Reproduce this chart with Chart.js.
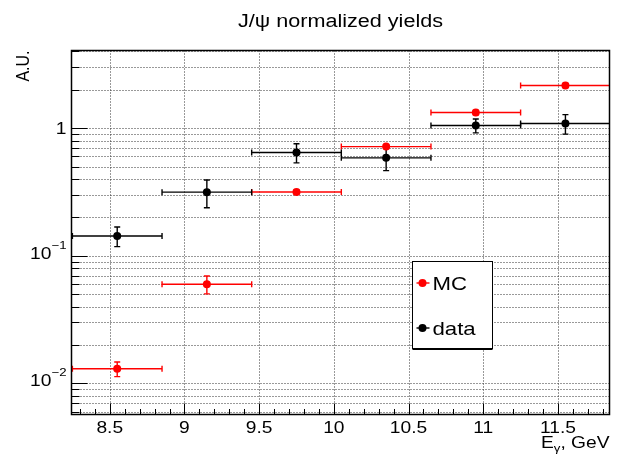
<!DOCTYPE html>
<html><head><meta charset="utf-8">
<script src="https://cdn.jsdelivr.net/npm/chart.js@4.4.0/dist/chart.umd.min.js"></script>
<style>html,body{margin:0;padding:0;background:#fff;}canvas{display:block;}</style>
</head><body>
<canvas id="c" width="620" height="460"></canvas>
<script>
// ---- data ----
const binCenters   = [8.55, 9.15, 9.75, 10.35, 10.95, 11.55];
const binHalfWidth = [0.3, 0.3, 0.3, 0.3, 0.3, 0.3];
const mcValues   = [0.0130, 0.0598, 0.316, 0.717, 1.325, 2.16];
const mcErrors   = [0.0017, 0.0095, 0.012, 0.025, 0.05, 0.08];
const dataValues = [0.143, 0.315, 0.644, 0.585, 1.048, 1.087];
const dataErrors = [0.025, 0.077, 0.11, 0.12, 0.13, 0.19];
const xTickValues = [8.5, 9, 9.5, 10, 10.5, 11, 11.5];
const xTickLabels = ['8.5', '9', '9.5', '10', '10.5', '11', '11.5'];
const yDecades    = [0.01, 0.1, 1];
const yTickBases  = ['10', '10', '1'];
const yTickExps   = ['\u22122', '\u22121', ''];
const titleText   = 'J/\u03C8 normalized yields';
const xTitleParts = ['E', '\u03B3', ', GeV'];
const yTitleText  = 'A.U.';
const legendLabels = ['MC', 'data'];

const FONT = '"Liberation Sans", Arial, Helvetica, sans-serif';
const SX = 1.2;
const RED = '#ff0000', BLACK = '#000000';

function txt(ctx, s, x, y, size, align) {
  ctx.save();
  ctx.font = size + 'px ' + FONT;
  ctx.textAlign = align; ctx.textBaseline = 'alphabetic';
  ctx.translate(x, y); ctx.scale(SX, 1);
  ctx.fillStyle = '#000';
  ctx.fillText(s, 0, 0);
  ctx.restore();
}
function tw(ctx, s, size) { ctx.save(); ctx.font = size + 'px ' + FONT; const w = ctx.measureText(s).width * SX; ctx.restore(); return w; }
function seg(ctx, x1, y1, x2, y2) { ctx.beginPath(); ctx.moveTo(x1, y1); ctx.lineTo(x2, y2); ctx.stroke(); }

function yLogTicks(min, max) {
  const out = [];
  for (let e = -4; e <= 2; e++) for (let m = 1; m <= 9; m++) {
    const v = m * Math.pow(10, e);
    if (v >= min * 0.999 && v <= max * 1.001) out.push({ v, major: m === 1 });
  }
  return out;
}

function drawErrors(ctx, x, y, vals, errs, color) {
  ctx.strokeStyle = color; ctx.lineWidth = 1.4;
  for (let i = 0; i < binCenters.length; i++) {
    const cx = x.getPixelForValue(binCenters[i]);
    const xl = x.getPixelForValue(binCenters[i] - binHalfWidth[i]);
    const xr = x.getPixelForValue(binCenters[i] + binHalfWidth[i]);
    const cy = y.getPixelForValue(vals[i]);
    const yt = y.getPixelForValue(vals[i] + errs[i]);
    const yb = y.getPixelForValue(vals[i] - errs[i]);
    seg(ctx, xl, cy, xr, cy);
    seg(ctx, xl, cy - 3, xl, cy + 3);
    seg(ctx, xr, cy - 3, xr, cy + 3);
    seg(ctx, cx, yt, cx, yb);
    seg(ctx, cx - 3, yt, cx + 3, yt);
    seg(ctx, cx - 3, yb, cx + 3, yb);
  }
}

const rootPlugin = {
  id: 'rootStyle',
  beforeDatasetsDraw(chart) {
    const { ctx, chartArea: a, scales: { x, y } } = chart;
    ctx.save();
    ctx.beginPath(); ctx.rect(a.left, a.top, a.right - a.left, a.bottom - a.top); ctx.clip();
    ctx.strokeStyle = '#333'; ctx.lineWidth = 1; ctx.setLineDash([1, 2]);
    xTickValues.forEach(v => { const px = Math.round(x.getPixelForValue(v)) + 0.5; seg(ctx, px, a.top, px, a.bottom); });
    yLogTicks(y.min, y.max).forEach(t => { const py = Math.round(y.getPixelForValue(t.v)) + 0.5; seg(ctx, a.left, py, a.right, py); });
    ctx.setLineDash([]);
    drawErrors(ctx, x, y, mcValues, mcErrors, RED);
    drawErrors(ctx, x, y, dataValues, dataErrors, BLACK);
    ctx.restore();
  },
  afterDraw(chart) {
    const { ctx, chartArea: a, scales: { x, y } } = chart;
    ctx.save();
    // frame
    ctx.strokeStyle = '#000'; ctx.lineWidth = 1.5;
    ctx.strokeRect(a.left, a.top, a.right - a.left, a.bottom - a.top);
    // x ticks
    ctx.lineWidth = 1;
    for (let k = 83; k <= 118; k++) {
      const v = k / 10; const px = Math.round(x.getPixelForValue(v)) + 0.5;
      const major = (k % 5 === 0);
      seg(ctx, px, a.bottom, px, a.bottom - (major ? 11 : 5.5));
    }
    // y ticks
    yLogTicks(y.min, y.max).forEach(t => {
      const py = Math.round(y.getPixelForValue(t.v)) + 0.5;
      seg(ctx, a.left, py, a.left + (t.major ? 16 : 8), py);
    });
    // x labels
    xTickValues.forEach((v, i) => txt(ctx, xTickLabels[i], x.getPixelForValue(v), 433, 16, 'center'));
    // y labels
    yDecades.forEach((v, i) => {
      const py = y.getPixelForValue(v);
      const right = a.left - 5;
      if (yTickExps[i]) {
        const ew = tw(ctx, yTickExps[i], 11);
        txt(ctx, yTickExps[i], right, py - 7, 11, 'right');
        txt(ctx, yTickBases[i], right - ew, py + 3, 16, 'right');
      } else {
        txt(ctx, yTickBases[i], right, py + 6, 16, 'right');
      }
    });
    // x title
    {
      const r = a.right; const base = 448;
      const w3 = tw(ctx, xTitleParts[2], 16), w2 = tw(ctx, xTitleParts[1], 11);
      txt(ctx, xTitleParts[2], r, base, 16, 'right');
      txt(ctx, xTitleParts[1], r - w3, base + 4, 11, 'right');
      txt(ctx, xTitleParts[0], r - w3 - w2, base, 16, 'right');
    }
    // y title (rotated)
    ctx.save();
    ctx.translate(29, a.top);
    ctx.rotate(-Math.PI / 2);
    ctx.scale(1, SX);
    ctx.font = '16px ' + FONT; ctx.textAlign = 'right'; ctx.fillStyle = '#000';
    ctx.fillText(yTitleText, 0, 0);
    ctx.restore();
    // title
    txt(ctx, titleText, (a.left + a.right) / 2, 27, 18, 'center');
    // legend
    const lx = 412.5, ly = 261.5, lw = 80, lh = 87;
    ctx.fillStyle = '#fff'; ctx.fillRect(lx, ly, lw, lh);
    ctx.strokeStyle = '#000'; ctx.lineWidth = 1; ctx.strokeRect(lx, ly, lw, lh);
    ctx.lineWidth = 2; seg(ctx, lx, ly + lh + 0.5, lx + lw, ly + lh + 0.5);
    const cols = [RED, BLACK];
    const rows = [283, 328];
    legendLabels.forEach((s, i) => {
      ctx.strokeStyle = cols[i]; ctx.lineWidth = 1.4;
      seg(ctx, lx + 4, rows[i], lx + 17, rows[i]);
      ctx.fillStyle = cols[i];
      ctx.beginPath(); ctx.arc(lx + 10, rows[i], 4, 0, Math.PI * 2); ctx.fill();
      txt(ctx, s, lx + 20, rows[i] + 7, 18.5, 'left');
    });
    ctx.restore();
  }
};

new Chart(document.getElementById('c'), {
  type: 'scatter',
  data: {
    datasets: [
      { label: legendLabels[0], data: binCenters.map((c, i) => ({ x: c, y: mcValues[i] })),
        pointRadius: 4, pointBackgroundColor: RED, pointBorderWidth: 0, showLine: false },
      { label: legendLabels[1], data: binCenters.map((c, i) => ({ x: c, y: dataValues[i] })),
        pointRadius: 4, pointBackgroundColor: BLACK, pointBorderWidth: 0, showLine: false }
    ]
  },
  options: {
    responsive: false, animation: false, devicePixelRatio: 1,
    layout: { padding: { left: 0, right: 10.5, top: 50.5, bottom: 0 } },
    plugins: { legend: { display: false }, tooltip: { enabled: false }, title: { display: false } },
    scales: {
      x: { type: 'linear', min: 8.244, max: 11.845,
           grid: { display: false }, border: { display: false }, ticks: { display: false },
           afterFit: s => { s.height = 45.5; } },
      y: { type: 'logarithmic', min: 0.0057, max: 4.06,
           grid: { display: false }, border: { display: false }, ticks: { display: false },
           afterFit: s => { s.width = 71.5; } }
    }
  },
  plugins: [rootPlugin]
});
</script>
</body></html>
